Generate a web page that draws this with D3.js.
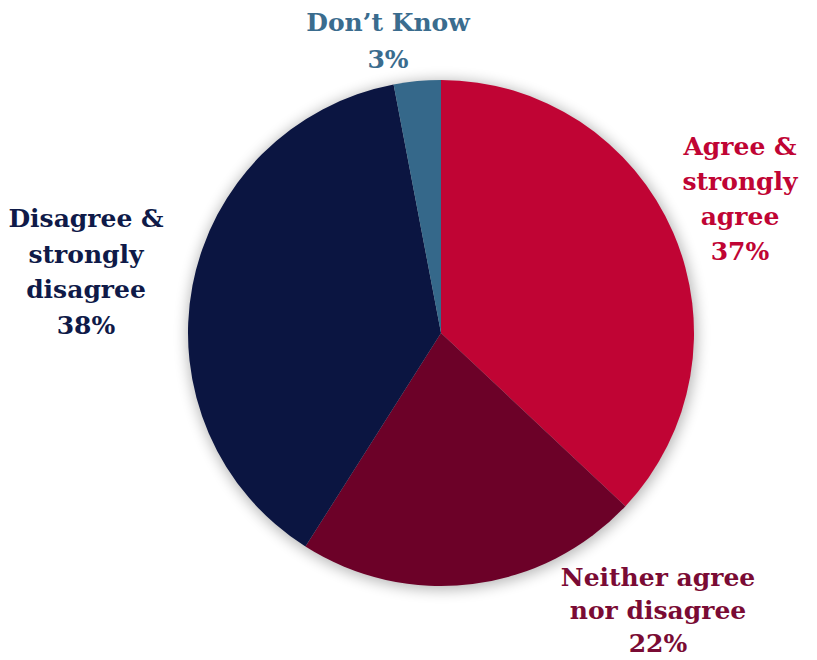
<!DOCTYPE html>
<html>
<head>
<meta charset="utf-8">
<script src="https://cdn.jsdelivr.net/npm/d3@7"></script>
<style>
  html, body { margin: 0; padding: 0; background: #fff; }
  svg { display: block; }
  text { font-family: "DejaVu Serif", "Liberation Serif", serif; font-weight: bold; }
</style>
</head>
<body>
<svg id="chart" width="817" height="660"></svg>
<script>
// Survey responses, clockwise from 12 o'clock
const categories = ["Agree & strongly agree", "Neither agree nor disagree", "Disagree & strongly disagree", "Don’t Know"];
const values = [37, 22, 38, 3];
const sliceColors = ["#C00434", "#6C0128", "#0B1541", "#35688A"];
const labelColors = ["#C00434", "#7A0B34", "#0F1A48", "#3A6C8E"];
const labelLines = [
  ["Agree &", "strongly", "agree", "37%"],
  ["Neither agree", "nor disagree", "22%"],
  ["Disagree &", "strongly", "disagree", "38%"],
  ["Don’t Know", "3%"]
];
const labelAnchors = [[740, 146], [658, 577], [86, 218], [388, 22]];
const labelSpacing = [35, 33, 35.5, 37];

const svg = d3.select("#chart");
const cx = 441, cy = 333, r = 253;

const defs = svg.append("defs");
const blur = defs.append("filter").attr("id", "glow")
  .attr("x", "-20%").attr("y", "-20%").attr("width", "140%").attr("height", "140%");
blur.append("feGaussianBlur").attr("stdDeviation", 7);

const data = categories.map((c, i) => ({ name: c, value: values[i], i }));
const pie = d3.pie().value(d => d.value).sort(null);
const arc = d3.arc().innerRadius(0).outerRadius(r);
const arcs = pie(data);

const g = svg.append("g").attr("transform", `translate(${cx},${cy})`);

// soft halo behind the pie
g.append("circle").attr("r", r + 2).attr("cx", 1).attr("cy", 2)
  .attr("fill", "#000").attr("opacity", 0.28).attr("filter", "url(#glow)");

g.selectAll("path.slice").data(arcs).join("path")
  .attr("class", "slice")
  .attr("d", arc)
  .attr("fill", d => sliceColors[d.data.i]);

// labels
arcs.forEach(a => {
  const i = a.data.i;
  const [x, y] = labelAnchors[i];
  const t = svg.append("text")
    .attr("x", x).attr("y", y)
    .attr("text-anchor", "middle")
    .attr("dominant-baseline", "central")
    .attr("fill", labelColors[i])
    .attr("font-size", 25);
  labelLines[i].forEach((ln, k) => {
    t.append("tspan").attr("x", x).attr("y", y + k * labelSpacing[i]).text(ln);
  });
});
</script>
</body>
</html>
